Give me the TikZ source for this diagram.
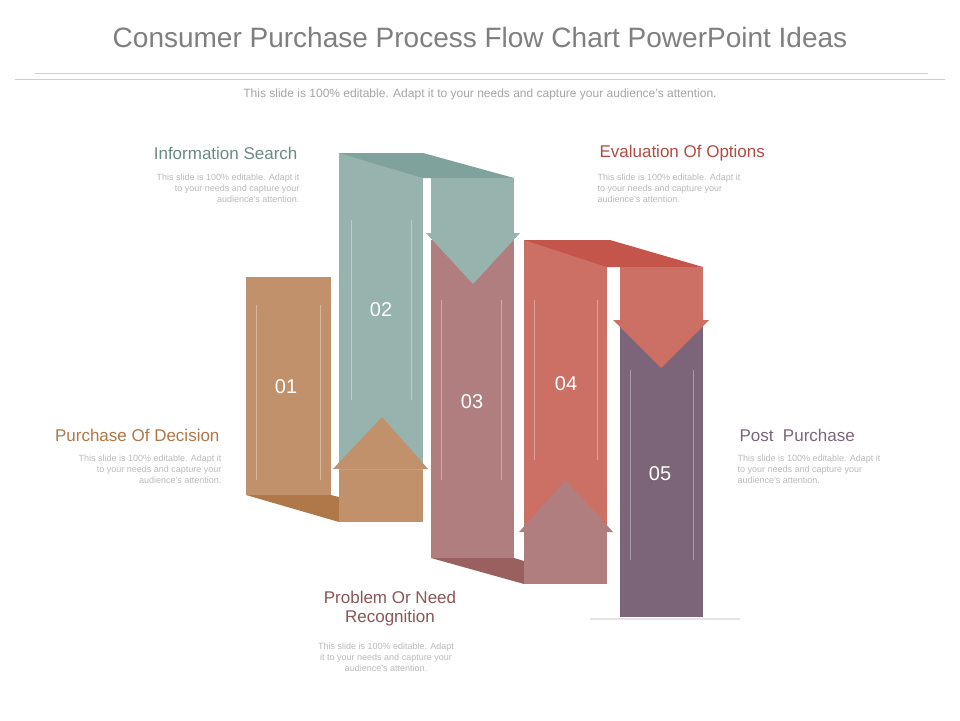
\documentclass[tikz,border=0pt]{standalone}
\usepackage{fontspec}
\setmainfont{Liberation Sans}
\definecolor{cBrown}{HTML}{C0916A}
\definecolor{cBrownD}{HTML}{B07848}
\definecolor{cTeal}{HTML}{96B3AE}
\definecolor{cTealD}{HTML}{7FA29D}
\definecolor{cRose}{HTML}{B07E7E}
\definecolor{cRoseD}{HTML}{9A6060}
\definecolor{cRed}{HTML}{CC7066}
\definecolor{cRedD}{HTML}{C4554A}
\definecolor{cPurple}{HTML}{7D6579}
\definecolor{cGray}{HTML}{BBBBBB}
\tikzset{
  num/.style={text=white,font=\fontsize{20}{20}\selectfont},
  head/.style={font=\fontsize{17}{19}\selectfont,align=center},
  body/.style={text=cGray,font=\fontsize{9}{11}\selectfont},
  shine/.style={white,opacity=0.35,line width=0.8pt}
}
\begin{document}
\begin{tikzpicture}[x=1pt,y=-1pt]
  \useasboundingbox[fill=white] (0,0) rectangle (960,720);
  % title
  \node (title) at (480,37) {\color[HTML]{7F7F7F}\fontsize{28}{30}\selectfont Consumer Purchase Process Flow Chart PowerPoint Ideas};
  \draw[cGray!70] (35,73) -- (928,73);
  \draw[cGray!70] (15,79) -- (945,79);
  \node (sub) at (480,94) {\color[HTML]{A6A6A6}\fontsize{12}{14}\selectfont This slide is 100\% editable. Adapt it to your needs and capture your audience's attention.};
  % bar 01 with fold and up arrow
  \fill[cBrown] (246,277) rectangle (331,495);
  \fill[cBrownD] (246,495) -- (331,495) -- (339,497) -- (339,522) -- cycle;
  % bar 02 with top fold
  \fill[cTeal] (339,153) rectangle (423,470);
  \fill[cTealD] (339,153) -- (423,153) -- (514,178) -- (423,178) -- cycle;
  \fill[cTeal] (431,178) rectangle (514,233);
  \fill[cBrown] (339,470) rectangle (423,522);
  \fill[cBrown] (333,469) -- (382,417) -- (428,469) -- cycle;
  % bar 03
  \fill[cRose] (431,240) rectangle (514,558);
  \fill[cRoseD] (431,558) -- (514,558) -- (524,561) -- (524,584) -- cycle;
  \fill[cTeal] (426,233) -- (520,233) -- (473,284) -- cycle;
  % bar 04
  \fill[cRed] (524,240) rectangle (607,532);
  \fill[cRedD] (524,240) -- (610,240) -- (703,267) -- (607,267) -- cycle;
  \fill[cRed] (620,267) rectangle (703,322);
  \fill[cRose] (524,532) rectangle (607,584);
  \fill[cRose] (519,532) -- (566,480) -- (613,532) -- cycle;
  % bar 05
  \fill[cPurple] (620,322) rectangle (703,617);
  \fill[cRed] (613,320) -- (709,320) -- (661,368) -- cycle;
  \draw[cGray!40,line width=1.5pt] (590,619) -- (740,619);
  % shine lines
  \foreach \x/\ya/\yb in {256/305/480, 320/305/480, 351/220/400, 411/220/400, 441/300/480, 501/300/480, 534/300/460, 597/300/460, 630/370/560, 693/370/560}
    \draw[shine] (\x,\ya) -- (\x,\yb);
  % numbers
  \node[num] (n01) at (286,387) {01};
  \node[num] (n02) at (381,310) {02};
  \node[num] (n03) at (472,402) {03};
  \node[num] (n04) at (566,384) {04};
  \node[num] (n05) at (660,474) {05};
  % labels
  \node[head,text=cTealD!85!black,anchor=east] (lInfo) at (301,153) {Information Search};
  \node[body,anchor=north east,align=right] (tInfo) at (303,170) {This slide is 100\% editable. Adapt it\\to your needs and capture your\\audience's attention.};
  \node[head,text=cRedD!90!black,anchor=west] (lEval) at (596,153) {Evaluation Of Options};
  \node[body,anchor=north west,align=left] (tEval) at (594,170) {This slide is 100\% editable. Adapt it\\to your needs and capture your\\audience's attention.};
  \node[head,text=cBrownD,anchor=east] (lDec) at (223,435) {Purchase Of Decision};
  \node[body,anchor=north east,align=right] (tDec) at (225,451) {This slide is 100\% editable. Adapt it\\to your needs and capture your\\audience's attention.};
  \node[head,text=cPurple,anchor=west] (lPost) at (736,435) {Post\ \ Purchase};
  \node[body,anchor=north west,align=left] (tPost) at (734,451) {This slide is 100\% editable. Adapt it\\to your needs and capture your\\audience's attention.};
  \node[head,text=cRoseD!90!black] (lProb) at (390,609) {Problem Or Need\\Recognition};
  \node[body,align=center] (tProb) at (386,657) {This slide is 100\% editable. Adapt\\it to your needs and capture your\\audience's attention.};
\end{tikzpicture}
\end{document}
